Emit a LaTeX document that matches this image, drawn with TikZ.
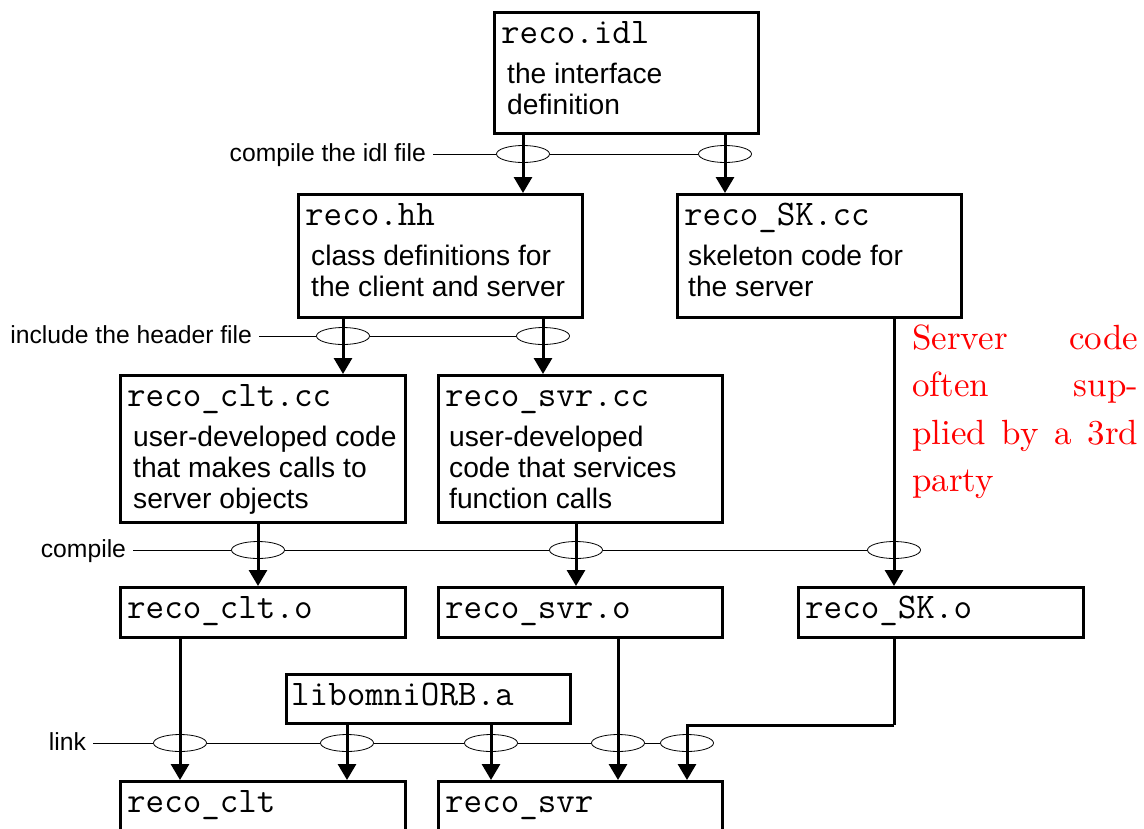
\documentclass[tikz,border=0pt]{standalone}
\usepackage{fontspec}
\newfontfamily\helv{Liberation Sans}
\usetikzlibrary{arrows.meta,shapes.geometric,calc}
\tikzset{
  box/.style={draw, line width=3pt, anchor=north west, inner sep=0pt},
  ttx/.style={anchor=base west, inner sep=0pt, font=\fontsize{36}{40}\selectfont\ttfamily},
  desc/.style={anchor=base west, inner sep=0pt, font=\helv\fontsize{28.2}{31}\selectfont},
  lab/.style={anchor=base east, inner sep=0pt, outer xsep=7pt, font=\helv\fontsize{24.7}{28}\selectfont},
  ell/.style={ellipse, draw, line width=0.8pt, minimum width=53pt, minimum height=17pt, inner sep=0pt},
  thin/.style={line width=0.8pt},
  arr/.style={line width=3pt, -{Triangle[width=18pt,length=16pt]}}
}
\begin{document}
\begin{tikzpicture}[x=1pt,y=-1pt]
\useasboundingbox (0,0) rectangle (1144,828);
\clip (0,0) rectangle (1144,828);
% boxes
\node[box, minimum width=264pt, minimum height=121pt] (idl) at (493,11) {};
\node[box, minimum width=284pt, minimum height=123pt] (hh) at (297,193) {};
\node[box, minimum width=284pt, minimum height=123pt] (sk) at (676,193) {};
\node[box, minimum width=285pt, minimum height=147pt] (cltcc) at (119,374) {};
\node[box, minimum width=284pt, minimum height=147pt] (svrcc) at (437,374) {};
\node[box, minimum width=285pt, minimum height=50pt] (clto) at (119,586) {};
\node[box, minimum width=284pt, minimum height=50pt] (svro) at (437,586) {};
\node[box, minimum width=285pt, minimum height=50pt] (sko) at (797,586) {};
\node[box, minimum width=284pt, minimum height=49pt] (lib) at (285,673) {};
\node[box, minimum width=285pt, minimum height=90pt] (clt) at (119,780) {};
\node[box, minimum width=284pt, minimum height=90pt] (svr) at (437,780) {};
% texts
\node[ttx] (t1) at ($(idl.north west)+(8,32)$) {reco.idl};
\node[desc] (d1) at ($(idl.north west)+(14,72)$) {\begin{tabular}[t]{@{}l@{}}the interface\\definition\end{tabular}};
\node[ttx] (t2) at ($(hh.north west)+(8,32)$) {reco.hh};
\node[desc] (d2) at ($(hh.north west)+(14,72)$) {\begin{tabular}[t]{@{}l@{}}class definitions for\\the client and server\end{tabular}};
\node[ttx] (t3) at ($(sk.north west)+(8,32)$) {reco\_SK.cc};
\node[desc] (d3) at ($(sk.north west)+(12,72)$) {\begin{tabular}[t]{@{}l@{}}skeleton code for\\the server\end{tabular}};
\node[ttx] (t4) at ($(cltcc.north west)+(8,32)$) {reco\_clt.cc};
\node[desc] (d4) at ($(cltcc.north west)+(14,72)$) {\begin{tabular}[t]{@{}l@{}}user-developed code\\that makes calls to\\server objects\end{tabular}};
\node[ttx] (t5) at ($(svrcc.north west)+(8,32)$) {reco\_svr.cc};
\node[desc] (d5) at ($(svrcc.north west)+(12,72)$) {\begin{tabular}[t]{@{}l@{}}user-developed\\code that services\\function calls\end{tabular}};
\node[ttx] (t6) at ($(clto.north west)+(8,32)$) {reco\_clt.o};
\node[ttx] (t7) at ($(svro.north west)+(8,32)$) {reco\_svr.o};
\node[ttx] (t8) at ($(sko.north west)+(8,32)$) {reco\_SK.o};
\node[ttx] (t9) at ($(lib.north west)+(6,32)$) {libomniORB.a};
\node[ttx] (t10) at ($(clt.north west)+(8,32)$) {reco\_clt};
\node[ttx] (t11) at ($(svr.north west)+(8,32)$) {reco\_svr};
% red note
\node[anchor=base west, inner sep=0pt, text=red] (note) at (912,349)
  {\scalebox{3.5}{\parbox[t]{64.6pt}{\fontsize{10}{13.6}\selectfont
   \makebox[\linewidth][s]{Server code}\\
   \makebox[\linewidth][s]{often sup-}\\
   \makebox[\linewidth][s]{plied by a 3rd}\\
   party}}};
% row 1
\node[lab] (l1) at (433,161) {compile the idl file};
\node[ell] (e11) at (523,154) {};
\node[ell] (e12) at (725,154) {};
\draw[thin] (l1.east |- e11) -- (e11.west) (e11.east) -- (e12.west);
% row 2
\node[lab] (l2) at (259,343) {include the header file};
\node[ell] (e21) at (343,336) {};
\node[ell] (e22) at (543,336) {};
\draw[thin] (l2.east |- e21) -- (e21.west) (e21.east) -- (e22.west);
% row 3
\node[lab] (l3) at (133,557) {compile};
\node[ell] (e31) at (258,550) {};
\node[ell] (e32) at (576,550) {};
\node[ell] (e33) at (894,550) {};
\draw[thin] (l3.east |- e31) -- (e31.west) (e31.east) -- (e32.west) (e32.east) -- (e33.west);
% row 4
\node[lab] (l4) at (93,750) {link};
\node[ell] (e41) at (180,743) {};
\node[ell] (e42) at (347,743) {};
\node[ell] (e43) at (491,743) {};
\node[ell] (e44) at (618,743) {};
\node[ell] (e45) at (687,743) {};
\draw[thin] (l4.east |- e41) -- (e41.west) (e41.east) -- (e42.west) (e42.east) -- (e43.west)
  (e43.east) -- (e44.west) (e44.east) -- (e45.west);
% arrows
\draw[arr] (idl.south -| e11) -- (hh.north -| e11);
\draw[arr] (idl.south -| e12) -- (sk.north -| e12);
\draw[arr] (hh.south -| e21) -- (cltcc.north -| e21);
\draw[arr] (hh.south -| e22) -- (svrcc.north -| e22);
\draw[arr] (cltcc.south -| e31) -- (clto.north -| e31);
\draw[arr] (svrcc.south -| e32) -- (svro.north -| e32);
\draw[arr] (sk.south -| e33) -- (sko.north -| e33);
\draw[arr] (clto.south -| e41) -- (clt.north -| e41);
\draw[arr] (lib.south -| e42) -- (clt.north -| e42);
\draw[arr] (lib.south -| e43) -- (svr.north -| e43);
\draw[arr] (svro.south -| e44) -- (svr.north -| e44);
\coordinate (bend) at (894,725);
\draw[line width=3pt] (sko.south -| bend) -- (bend);
\draw[arr] (bend) -| (svr.north -| e45);
\end{tikzpicture}
\end{document}
